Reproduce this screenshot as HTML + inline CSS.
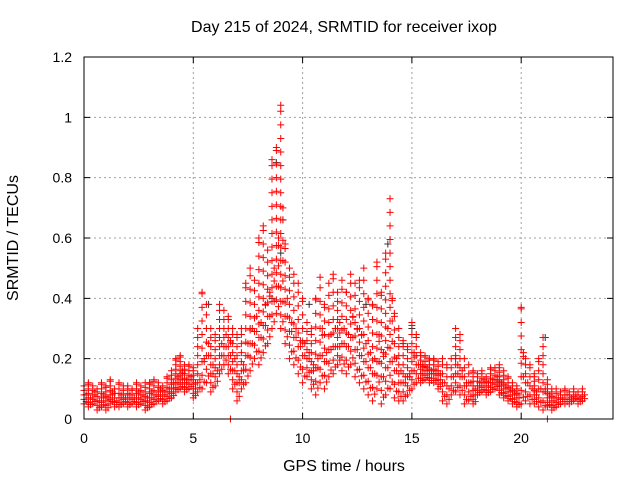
<!DOCTYPE html>
<html><head><meta charset="utf-8"><style>
body{margin:0;background:#fff;}
svg{display:block;font-family:"Liberation Sans",sans-serif;}
</style></head><body>
<svg id="chart" width="640" height="480" viewBox="0 0 640 480" xmlns="http://www.w3.org/2000/svg">
<rect width="640" height="480" fill="#fff"/>
<text x="344" y="32" font-size="16" text-anchor="middle">Day 215 of 2024, SRMTID for receiver ixop</text>
<text x="344" y="471" font-size="16" text-anchor="middle">GPS time / hours</text>
<text transform="translate(18,238) rotate(-90)" font-size="16" text-anchor="middle">SRMTID / TECUs</text>
<g id="grid"></g><g id="black"></g><g id="red"></g><g id="axes"></g>
</svg>
<script>
const xTicks=[0,5,10,15,20];
const yTicks=[0,0.2,0.4,0.6,0.8,1,1.2];
const yTickLabels=["0","0.2","0.4","0.6","0.8","1","1.2"];
// red series, sampled every 0.2 h from 0 to 22.8: low / middle / high values
const redLo=[.05,.04,.05,.03,.04, .03,.05,.04,.04,.05, .04,.05,.04,.05,.03, .04,.05,.06,.05,.06, .07,.09,.10,.09,.10, .07,.09,.10,.12,.09, .11,.15,.18,.15,.10, .06,.10,.12,.16,.20, .18,.22,.25,.30,.35, .30,.25,.20,.18,.15, .12,.14,.10,.08,.12, .10,.14,.15,.18,.16, .15,.18,.14,.12,.10, .08,.06,.10,.05,.08, .10,.07,.06,.06,.08, .10,.12,.12,.13,.12, .12,.10,.06,.05,.08, .09,.08,.05,.06,.05, .08,.09,.08,.09,.10, .08,.07,.06,.05,.04, .05,.06,.05,.05,.04, .03,.04,.03,.04,.05, .05,.05,.06,.05,.06];
const redMid=[.08,.07,.09,.06,.08, .07,.09,.06,.08,.07, .08,.07,.09,.08,.07, .09,.08,.10,.09,.10, .12,.14,.16,.13,.14, .12,.13,.20,.25,.18, .16,.25,.28,.26,.20, .14,.18,.25,.30,.34, .32,.38,.42,.50,.60, .70,.40,.32,.30,.26, .25,.22,.18,.20,.30, .22,.28,.30,.32,.30, .28,.34,.30,.28,.25, .22,.20,.28,.22,.30, .40,.20,.16,.14,.15, .22,.18,.18,.17,.16, .16,.15,.12,.10,.14, .18,.16,.12,.12,.10, .12,.13,.12,.13,.14, .12,.11,.10,.09,.08, .22,.12,.10,.09,.10, .10,.08,.07,.07,.07, .08,.07,.08,.07,.08];
const redHi=[.11,.12,.11,.10,.12, .11,.13,.10,.12,.11, .11,.10,.12,.11,.12, .12,.13,.12,.11,.14, .16,.20,.21,.18,.18, .17,.30,.42,.38,.30, .28,.38,.36,.34,.30, .28,.30,.45,.50,.46, .60,.64,.56,.86,.90, 1.04,.58,.50,.48,.45, .40,.32,.30,.40,.47, .38,.45,.48,.42,.46, .42,.48,.45,.46,.50, .40,.38,.52,.42,.55, .73,.35,.30,.26,.24, .32,.28,.22,.21,.20, .20,.19,.20,.18,.20, .30,.28,.20,.18,.16, .15,.16,.14,.17,.17, .18,.16,.14,.12,.11, .37,.20,.18,.15,.20, .27,.13,.10,.10,.09, .10,.09,.10,.09,.10];
const zeroHours=[6.7,21.2];
const zeroValues=[0,0];
const blackHours=[3.0,5.7,7.6,8.6,8.8,9.0,9.1,10.3,11.5,12.9,13.9,14.6,15.0,21.1,17.0,19.0];
const blackValues=[.12,.38,.30,.40,.85,.55,.66,.38,.30,.38,.58,.25,.30,.27,.20,.12];

const X0=84,X1=613,Y0=419,Y1=57,XMAX=24.2,YMAX=1.2;
const sx=v=>X0+v/XMAX*(X1-X0);
const sy=v=>Y0-v/YMAX*(Y0-Y1);
const NS="http://www.w3.org/2000/svg";
function mk(tag,attrs,parent){const e=document.createElementNS(NS,tag);for(const k in attrs)e.setAttribute(k,attrs[k]);parent.appendChild(e);return e;}
const grid=document.getElementById('grid'),axes=document.getElementById('axes');
xTicks.forEach((t,i)=>{
  const x=sx(t);
  if(t>0){const g=mk('line',{x1:x,x2:x,y1:Y1,y2:Y0,stroke:'#a0a0a0','stroke-dasharray':'2,3','stroke-width':1},grid);
  
  }
  const tk=mk('path',{d:`M${x},${Y0}v-6M${x},${Y1}v6`,stroke:'#000'},axes);
  
  
  const l=mk('text',{x:x,y:Y0+24,'font-size':14,'text-anchor':'middle'},axes);l.textContent=String(t);
  
  
});
yTicks.forEach((t,i)=>{
  const y=sy(t);
  if(t>0&&t<YMAX){const g=mk('line',{x1:X0,x2:X1,y1:y,y2:y,stroke:'#a0a0a0','stroke-dasharray':'2,3','stroke-width':1},grid);
  
  }
  const tk=mk('path',{d:`M${X0},${y}h6M${X1},${y}h-6`,stroke:'#000'},axes);
  
  
  const l=mk('text',{x:X0-12,y:y+5,'font-size':14,'text-anchor':'end'},axes);l.textContent=yTickLabels[i];
  
  
});
const frame=mk('rect',{x:X0,y:Y1,width:X1-X0,height:Y0-Y1,fill:'none',stroke:'#000'},axes);


function plus(parent,h,v,color,name){
  const x=sx(h),y=sy(v);
  const p=mk('path',{d:`M${x-3.5},${y}h7M${x},${y-3.5}v7`,stroke:color,'stroke-width':1,fill:'none'},parent);
  
  
}
const red=document.getElementById('red'),black=document.getElementById('black');
blackHours.forEach((h,i)=>plus(black,h,blackValues[i],'#333','black-point'));
redLo.forEach((lo,i)=>{
  const h=i*0.2, hi=redHi[i], mid=redMid[i];
  const r=hi-lo;
  const stepV=r<0.12?0.015:(r<0.25?0.03:0.045);
  for(let v=lo;v<hi;v+=stepV){plus(red,h,v,'#f00','red-point');}
  plus(red,h,hi,'#f00','red-point');
  for(let v=lo+stepV/2;v<mid;v+=stepV*1.5){plus(red,h+0.1,v,'#f00','red-point');}
  plus(red,h+0.1,mid,'#f00','red-point');
});
zeroHours.forEach((h,i)=>plus(red,h,zeroValues[i],'#f00','red-zero-point'));
</script>
</body></html>
